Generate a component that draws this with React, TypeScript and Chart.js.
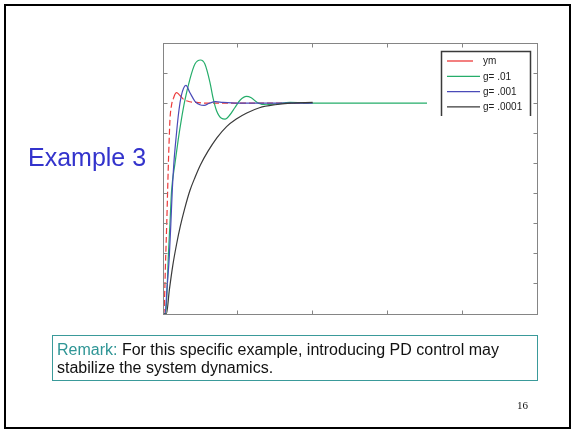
import React, { useEffect, useRef } from "react";
import { Chart, registerables } from "chart.js";

Chart.register(...registerables);

// ---- data ----
const seriesLabels = ["ym", "g= .01", "g= .001", "g= .0001"];
const seriesColors = ["#ec3a3a", "#25ad6a", "#4a4ab8", "#3a3a3a"];

const ymT = [0, 0.01, 0.036, 0.05, 0.062, 0.072, 0.082, 0.093, 0.115, 0.138, 0.16, 0.182, 0.22, 0.276, 0.36, 0.45, 0.6, 1.0, 1.5, 2.0];
const ymV = [0, 0, 0.38, 0.6, 0.82, 1.0, 1.15, 1.29, 1.39, 1.43, 1.46, 1.47, 1.455, 1.425, 1.41, 1.405, 1.4, 1.4, 1.4, 1.4];

const g01T = [0, 0.035, 0.05, 0.071, 0.093, 0.115, 0.16, 0.204, 0.245, 0.293, 0.36, 0.427, 0.502, 0.56, 0.627, 0.671, 0.716, 0.782, 0.83, 0.89, 0.96, 1.03, 1.116, 1.18, 1.27, 1.38, 1.5, 1.7, 2.0, 2.5, 3.0, 3.53];
const g01V = [0, 0, 0.1, 0.38, 0.6, 0.82, 1.0, 1.16, 1.29, 1.42, 1.56, 1.66, 1.687, 1.66, 1.54, 1.43, 1.35, 1.3, 1.295, 1.32, 1.37, 1.42, 1.445, 1.436, 1.402, 1.39, 1.395, 1.405, 1.4, 1.4, 1.4, 1.4];

const g001T = [0, 0.027, 0.055, 0.084, 0.105, 0.124, 0.145, 0.165, 0.19, 0.215, 0.245, 0.275, 0.307, 0.36, 0.427, 0.493, 0.55, 0.62, 0.7, 0.8, 1.0, 1.5, 2.0];
const g001V = [0, 0, 0.18, 0.38, 0.6, 0.82, 1.0, 1.12, 1.25, 1.36, 1.45, 1.5, 1.518, 1.47, 1.413, 1.39, 1.386, 1.4, 1.41, 1.405, 1.4, 1.4, 1.4];

const g0001T = [0, 0.045, 0.085, 0.13, 0.18, 0.23, 0.29, 0.36, 0.43, 0.5, 0.6, 0.72, 0.85, 0.98, 1.12, 1.29, 1.5, 1.7, 2.0];
const g0001V = [0, 0, 0.16, 0.32, 0.46, 0.58, 0.7, 0.82, 0.91, 0.99, 1.08, 1.17, 1.245, 1.295, 1.335, 1.37, 1.39, 1.4, 1.405];

const xTicks = [1, 2, 3, 4];
const yTicks = [0.2, 0.4, 0.6, 0.8, 1.0, 1.2, 1.4, 1.6];
const xRange = [0, 5];
const yRange = [0, 1.8];

const toPts = (t: number[], v: number[]) => t.map((x, i) => ({ x, y: v[i] }));

const framePlugin = {
  id: "matlabFrame",
  afterDraw(chart: any) {
    const { ctx, chartArea: a, scales } = chart;
    const xs = scales.x;
    const ys = scales.y;
    ctx.save();
    // axes box
    ctx.strokeStyle = "#858585";
    ctx.lineWidth = 1;
    const L = Math.floor(a.left) + 0.5;
    const R = Math.floor(a.right) + 0.5;
    const T = Math.floor(a.top) + 0.5;
    const B = Math.floor(a.bottom) + 0.5;
    ctx.strokeRect(L, T, R - L, B - T);
    // inward ticks
    const tl = 4;
    ctx.beginPath();
    xTicks.forEach((v) => {
      const px = Math.floor(xs.getPixelForValue(v)) + 0.5;
      ctx.moveTo(px, B);
      ctx.lineTo(px, B - tl);
      ctx.moveTo(px, T);
      ctx.lineTo(px, T + tl);
    });
    yTicks.forEach((v) => {
      const py = Math.floor(ys.getPixelForValue(v)) + 0.5;
      ctx.moveTo(L, py);
      ctx.lineTo(L + tl, py);
      ctx.moveTo(R, py);
      ctx.lineTo(R - tl, py);
    });
    ctx.stroke();

    // legend (open-bottom box like the reference)
    const lx0 = a.right - 96;
    const lx1 = a.right - 6;
    const ly0 = a.top + 8;
    const ly1 = a.top + 73;
    ctx.fillStyle = "#ffffff";
    ctx.fillRect(lx0, ly0, lx1 - lx0, ly1 - ly0);
    ctx.strokeStyle = "#3a3a3a";
    ctx.lineWidth = 1.5;
    ctx.beginPath();
    ctx.moveTo(lx0 + 0.5, ly1);
    ctx.lineTo(lx0 + 0.5, ly0 + 0.5);
    ctx.lineTo(lx1 - 0.5, ly0 + 0.5);
    ctx.lineTo(lx1 - 0.5, ly1);
    ctx.stroke();

    ctx.font = "10px 'Liberation Sans', Arial, sans-serif";
    ctx.textBaseline = "middle";
    ctx.textAlign = "left";
    seriesLabels.forEach((lab, i) => {
      const yy = ly0 + 10 + i * 15.3;
      ctx.strokeStyle = seriesColors[i];
      ctx.lineWidth = 1.3;
      ctx.beginPath();
      ctx.moveTo(lx0 + 6, yy);
      ctx.lineTo(lx0 + (i === 0 ? 32 : 39), yy);
      ctx.stroke();
      ctx.fillStyle = "#222";
      ctx.fillText(lab, lx0 + 42, yy + 0.5);
    });
    ctx.restore();
  },
};

function SlideChart() {
  const ref = useRef<HTMLCanvasElement | null>(null);
  useEffect(() => {
    if (!ref.current) return;
    const series = [
      toPts(ymT, ymV),
      toPts(g01T, g01V),
      toPts(g001T, g001V),
      toPts(g0001T, g0001V),
    ];
    const orders = [3, 2, 1, 0];
    const chart = new Chart(ref.current, {
      type: "line",
      data: {
        datasets: series.map((d, i) => ({
          label: seriesLabels[i],
          data: d,
          borderColor: seriesColors[i],
          backgroundColor: seriesColors[i],
          borderWidth: 1.2,
          pointRadius: 0,
          fill: false,
          cubicInterpolationMode: "monotone",
          order: orders[i],
          ...(i === 0
            ? {
                segment: {
                  borderDash: (c: any) => (c.p1.parsed.y < 1.45 ? [6, 3] : []),
                },
              }
            : {}),
        })),
      },
      options: {
        responsive: false,
        animation: false,
        events: [],
        layout: { padding: { left: 163, top: 43, right: 36, bottom: 118 } },
        plugins: { legend: { display: false }, tooltip: { enabled: false } },
        scales: {
          x: { type: "linear", min: xRange[0], max: xRange[1], display: false },
          y: { type: "linear", min: yRange[0], max: yRange[1], display: false },
        },
      },
      plugins: [framePlugin],
    } as any);
    return () => chart.destroy();
  }, []);
  return (
    <canvas
      ref={ref}
      width={573}
      height={432}
      style={{ position: "absolute", left: 0, top: 0, width: 573, height: 432 }}
    />
  );
}

export default function App() {
  const sans = "'Liberation Sans', Arial, sans-serif";
  return (
    <div
      style={{
        position: "absolute",
        left: 0,
        top: 0,
        width: 573,
        height: 432,
        background: "#ffffff",
        overflow: "hidden",
      }}
    >
      <div
        style={{
          position: "absolute",
          left: 4,
          top: 4,
          width: 567,
          height: 425,
          border: "2px solid #000",
          boxSizing: "border-box",
        }}
      />
      <SlideChart />
      <div
        style={{
          position: "absolute",
          left: 28,
          top: 145,
          fontFamily: sans,
          fontSize: 25,
          lineHeight: "25px",
          color: "#3333cc",
          whiteSpace: "nowrap",
        }}
      >
        Example 3
      </div>
      <div
        style={{
          position: "absolute",
          left: 52,
          top: 335,
          width: 486,
          height: 46,
          border: "1px solid #3a9a9a",
          boxSizing: "border-box",
          padding: "5px 0 0 4px",
          fontFamily: sans,
          fontSize: 16,
          lineHeight: "18px",
          color: "#111",
          whiteSpace: "nowrap",
        }}
      >
        <span style={{ color: "#2e9595" }}>Remark:</span> For this specific example, introducing PD control may
        <br />
        stabilize the system dynamics.
      </div>
      <div
        style={{
          position: "absolute",
          left: 517,
          top: 400,
          fontFamily: "'Liberation Serif', 'Times New Roman', serif",
          fontSize: 11,
          lineHeight: "11px",
          color: "#111",
        }}
      >
        16
      </div>
    </div>
  );
}
